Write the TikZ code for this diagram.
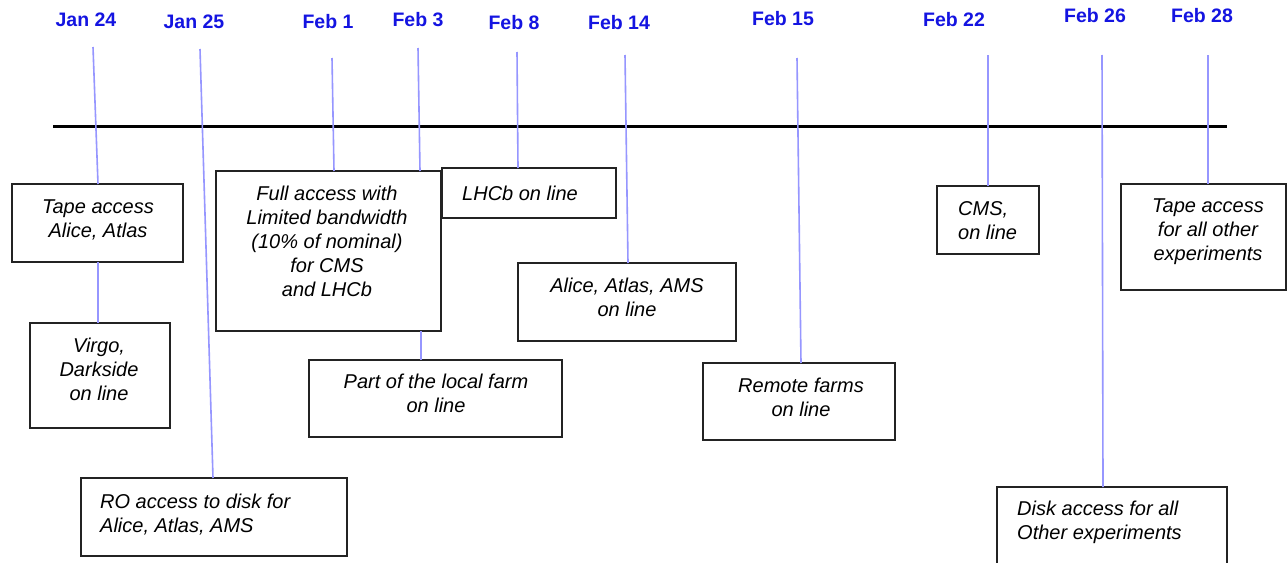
\documentclass[tikz,border=0pt]{standalone}
\usepackage{fontspec}
\setmainfont{Liberation Sans}
\definecolor{datecol}{RGB}{20,20,225}
\definecolor{tickcol}{RGB}{150,150,255}
\definecolor{boxcol}{RGB}{35,35,35}
\tikzset{
  datelbl/.style={font=\fontsize{19.5}{24}\selectfont\bfseries, text=datecol, anchor=base, inner sep=0pt},
  evbox/.style={draw=boxcol, line width=1.1pt, fill=white, inner sep=0pt, outer sep=0pt, anchor=north west},
  evtext/.style={font=\fontsize{20}{24}\selectfont\itshape, inner sep=0pt, anchor=north, align=center, execute at begin node=\strut, yshift=-2.5pt},
  evtextl/.style={evtext, anchor=north west, align=left},
  tick/.style={draw=tickcol, line width=1.6pt},
  axis/.style={draw=black, line width=3.6pt}
}
\begin{document}
\begin{tikzpicture}[x=1pt,y=-1pt]
\clip (0,0) rectangle (1287,562);
\fill[white] (0,0) rectangle (1287,562);
% timeline
\coordinate (axL) at (53,126.5);
\coordinate (axR) at (1227,126.5);
\draw[axis] (axL) -- (axR);
% dates
\node[datelbl] (dJ24) at (86,27) {Jan 24};
\node[datelbl] (dJ25) at (194,28) {Jan 25};
\node[datelbl] (dF1) at (328,28) {Feb 1};
\node[datelbl] (dF3) at (418,27) {Feb 3};
\node[datelbl] (dF8) at (514,29) {Feb 8};
\node[datelbl] (dF14) at (619,29) {Feb 14};
\node[datelbl] (dF15) at (783,25) {Feb 15};
\node[datelbl] (dF22) at (954,27) {Feb 22};
\node[datelbl] (dF26) at (1095,23) {Feb 26};
\node[datelbl] (dF28) at (1202,23) {Feb 28};
% tick tops
\coordinate (tJ24) at (93,47);
\coordinate (tJ25) at (200,49);
\coordinate (tF1) at (332,58);
\coordinate (tF3) at (418,48);
\coordinate (tF8) at (517,52);
\coordinate (tF14) at (625,55);
\coordinate (tF15) at (797,58);
\coordinate (tF22) at (988,55);
\coordinate (tF26) at (1102,55);
\coordinate (tF28) at (1208,55);
% boxes
\node[evbox, minimum width=171pt, minimum height=78pt] (tapeA) at (12,184) {};
\node[evbox, minimum width=140pt, minimum height=105pt] (virgo) at (30,323) {};
\node[evbox, minimum width=225pt, minimum height=160pt] (full) at (216,171) {};
\node[evbox, minimum width=253pt, minimum height=77pt] (farm) at (309,360) {};
\node[evbox, minimum width=266pt, minimum height=78pt] (ro) at (81,478) {};
\node[evbox, minimum width=174pt, minimum height=50pt] (lhcb) at (442,168) {};
\node[evbox, minimum width=218pt, minimum height=78pt] (aaa) at (518,263) {};
\node[evbox, minimum width=192pt, minimum height=77pt] (remote) at (703,363) {};
\node[evbox, minimum width=102pt, minimum height=68pt] (cms) at (937,186) {};
\node[evbox, minimum width=165pt, minimum height=106pt] (tapeall) at (1121,184) {};
\node[evbox, minimum width=230pt, minimum height=113pt] (disk) at (997,487) {};
% connectors
\draw[tick] (tJ24) -- ([xshift=86pt]tapeA.north west);
\draw[tick] ([xshift=86pt]tapeA.south west) -- ([xshift=68pt]virgo.north west);
\draw[tick] (tJ25) -- ([xshift=132pt]ro.north west);
\draw[tick] (tF1) -- ([xshift=118pt]full.north west);
\draw[tick] (tF3) -- ([xshift=204pt]full.north west);
\draw[tick] ([xshift=205pt]full.south west) -- ([xshift=112pt]farm.north west);
\draw[tick] (tF8) -- ([xshift=76pt]lhcb.north west);
\draw[tick] (tF14) -- ([xshift=110pt]aaa.north west);
\draw[tick] (tF15) -- ([xshift=98pt]remote.north west);
\draw[tick] (tF22) -- ([xshift=51pt]cms.north west);
\draw[tick] (tF26) -- ([xshift=106pt]disk.north west);
\draw[tick] (tF28) -- ([xshift=87pt]tapeall.north west);
% texts
\node[evtext] (xtapeA) at (98,197.2) {Tape access\\Alice, Atlas};
\node[evtext] (xvirgo) at (99,335.2) {Virgo,\\Darkside\\on line};
\node[evtext] (xfull) at (327,183.2) {Full access with\\Limited bandwidth\\(10\% of nominal)\\for CMS\\and LHCb};
\node[evtext] (xfarm) at (436,371.2) {Part of the local farm\\on line};
\node[evtextl] (xro) at (100,491.2) {RO access to disk for\\Alice, Atlas, AMS};
\node[evtextl] (xlhcb) at (462,181.2) {LHCb on line};
\node[evtext] (xaaa) at (627,275.2) {Alice, Atlas, AMS\\on line};
\node[evtext] (xremote) at (801,375.2) {Remote farms\\on line};
\node[evtextl] (xcms) at (958,199.2) {CMS,\\on line};
\node[evtext] (xtapeall) at (1208,196.2) {Tape access\\for all other\\experiments};
\node[evtextl] (xdisk) at (1017,498.2) {Disk access for all\\Other experiments};
\end{tikzpicture}
\end{document}
